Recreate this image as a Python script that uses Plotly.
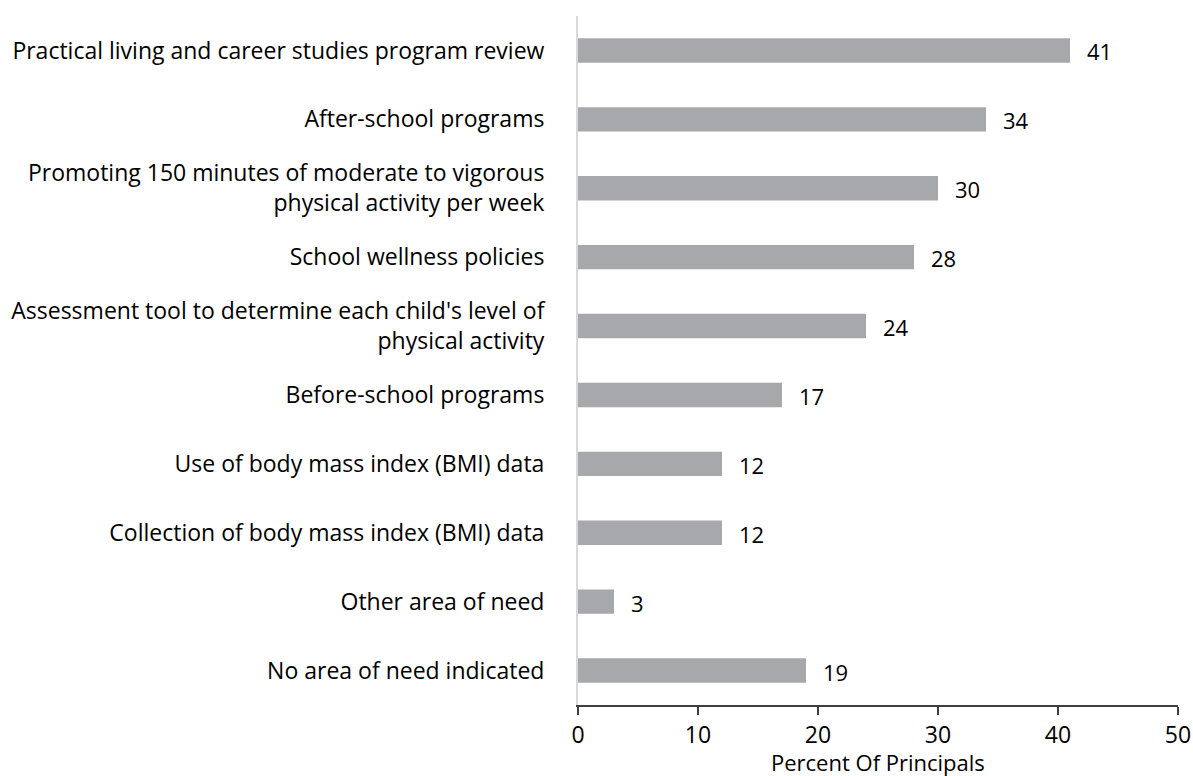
import plotly.graph_objects as go

categories = [
    "Practical living and career studies program review",
    "After-school programs",
    "Promoting 150 minutes of moderate to vigorous<br>physical activity per week",
    "School wellness policies",
    "Assessment tool to determine each child's level of<br>physical activity",
    "Before-school programs",
    "Use of body mass index (BMI) data",
    "Collection of body mass index (BMI) data",
    "Other area of need",
    "No area of need indicated",
]
values = [41, 34, 30, 28, 24, 17, 12, 12, 3, 19]
x_ticks = [0, 10, 20, 30, 40, 50]

FONT = "Open Sans"

fig = go.Figure()
fig.add_trace(go.Bar(
    x=values,
    y=categories,
    orientation="h",
    marker=dict(color="#a7a8ab", line=dict(width=0)),
    width=0.354,
    hoverinfo="skip",
))

for c, v in zip(categories, values):
    fig.add_annotation(
        x=v, y=c, text=str(v), showarrow=False,
        xanchor="left", xshift=15, yshift=-1,
        font=dict(family=FONT, size=22, color="#000000"),
    )

fig.add_annotation(
    x=25, y=0, xref="x", yref="paper", text="Percent Of Principals",
    showarrow=False, yanchor="bottom", yshift=-74,
    font=dict(family=FONT, size=22, color="#000000"),
)

fig.update_layout(
    width=1193, height=776,
    margin=dict(l=578, r=15, t=16, b=71),
    paper_bgcolor="white", plot_bgcolor="white",
    showlegend=False,
    font=dict(family=FONT, color="#000000"),
)
fig.update_xaxes(
    automargin=False,
    range=[0, 50], tickvals=x_ticks,
    showgrid=False, zeroline=False,
    showline=True, linecolor="#404040", linewidth=2,
    ticks="outside", ticklen=8, tickcolor="#404040", tickwidth=2,
    tickfont=dict(family=FONT, size=23, color="#000000"),
    ticklabelstandoff=0,
)
fig.update_yaxes(
    automargin=False,
    categoryorder="array", categoryarray=categories,
    autorange="reversed", range=[9.5, -0.5],
    showgrid=False, zeroline=False,
    showline=True, linecolor="#d9d9d9", linewidth=2,
    ticks="", ticklabelstandoff=27,
    tickfont=dict(family=FONT, size=23, color="#000000"),
)

fig.write_html(
    "out.html",
    config={"displayModeBar": False},
    post_script="document.body.style.margin='0';document.body.style.overflow='hidden';",
)
